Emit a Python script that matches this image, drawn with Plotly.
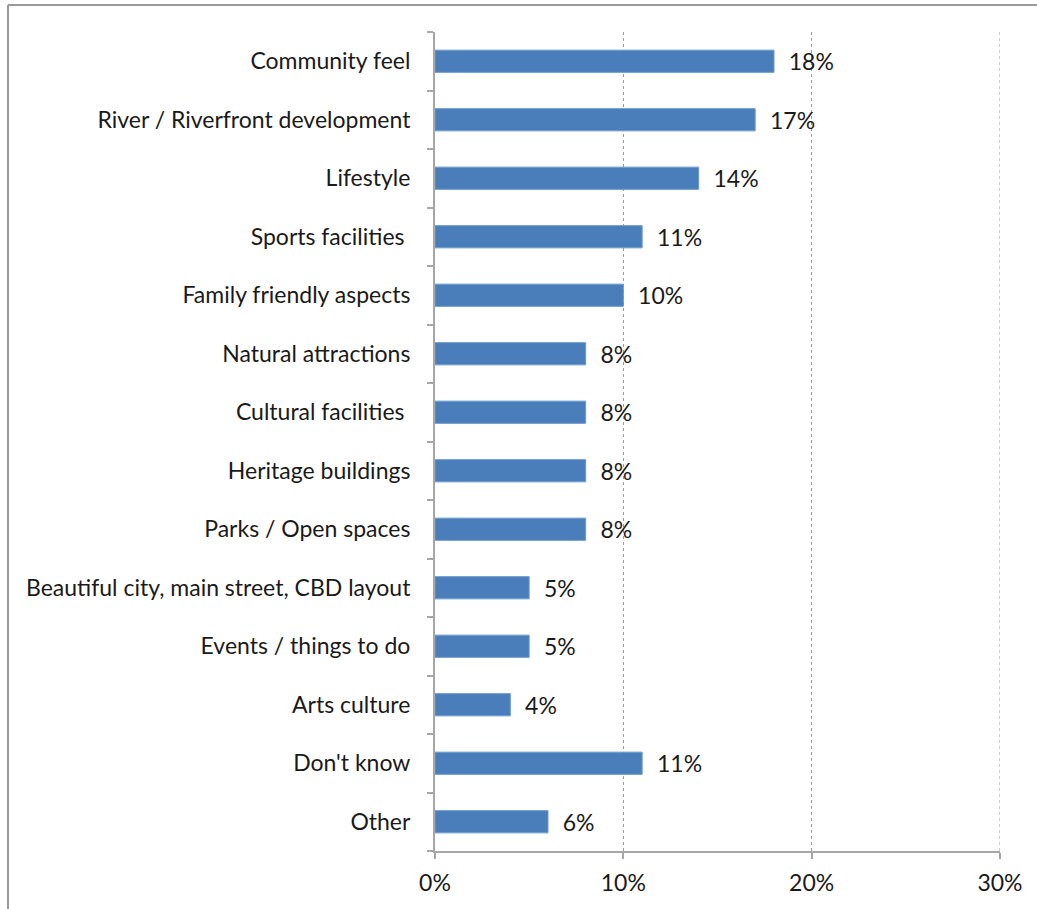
import plotly.graph_objects as go

# Reasons respondents gave (top to bottom) and share of mentions (%)
categories = [
    "Community feel",
    "River / Riverfront development",
    "Lifestyle",
    "Sports facilities\u00a0",
    "Family friendly aspects",
    "Natural attractions",
    "Cultural facilities\u00a0",
    "Heritage buildings",
    "Parks / Open spaces",
    "Beautiful city, main street, CBD layout",
    "Events / things to do",
    "Arts culture",
    "Don't know",
    "Other",
]
values = [18, 17, 14, 11, 10, 8, 8, 8, 8, 5, 5, 4, 11, 6]
x_ticks = [0, 10, 20, 30]
x_tick_labels = ["0%", "10%", "20%", "30%"]
x_max = 30

FONT = "Lato, 'Open Sans', sans-serif"
FONT_SIZE = 23
AXIS_GREY = "#a6a6a6"
GRID_GREY = "#9a9a9a"

fig = go.Figure(
    go.Bar(
        x=values,
        y=categories,
        orientation="h",
        width=0.38,
        marker=dict(color="#4A7EBB", line=dict(color="#6d9bd1", width=1)),
        text=[f"\u00a0\u00a0{v}%" for v in values],
        textposition="outside",
        constraintext="none",
        textfont=dict(family=FONT, size=FONT_SIZE, color="#1a1a1a"),
        cliponaxis=False,
    )
)

fig.update_layout(
    width=1037,
    height=909,
    margin=dict(l=435, r=37, t=32, b=58),
    paper_bgcolor="white",
    plot_bgcolor="white",
    showlegend=False,
    font=dict(family=FONT, size=FONT_SIZE, color="#1a1a1a"),
    xaxis=dict(
        range=[0, x_max],
        tickvals=x_ticks,
        ticktext=x_tick_labels,
        showgrid=True,
        gridcolor=GRID_GREY,
        griddash="dot",
        gridwidth=1,
        showline=True,
        linecolor=AXIS_GREY,
        linewidth=2,
        ticks="outside",
        ticklen=6,
        tickcolor=AXIS_GREY,
        tickwidth=2,
        ticklabelstandoff=4,
        zeroline=False,
        fixedrange=True,
    ),
    yaxis=dict(
        categoryorder="array",
        categoryarray=categories[::-1],
        autorange=False,
        range=[-0.5, len(categories) - 0.5],
        showline=True,
        linecolor=AXIS_GREY,
        linewidth=2,
        ticks="outside",
        tickson="boundaries",
        ticklen=6,
        tickcolor=AXIS_GREY,
        tickwidth=2,
        ticklabelstandoff=18,
        showgrid=False,
        zeroline=False,
        fixedrange=True,
    ),
    shapes=[
        # gridline at the right end of the value axis
        dict(type="line", xref="x", yref="paper",
             x0=x_max, x1=x_max, y0=0, y1=1,
             line=dict(color=GRID_GREY, width=1, dash="dot")),
        # outer frame: top and left edges of the chart box
        dict(type="line", xref="paper", yref="paper",
             x0=(8 - 435) / 565, x1=(1040 - 435) / 565,
             y0=(851 - 5) / 819, y1=(851 - 5) / 819,
             line=dict(color="#9a9a9a", width=2)),
        dict(type="line", xref="paper", yref="paper",
             x0=(8 - 435) / 565, x1=(8 - 435) / 565,
             y0=(851 - 5) / 819, y1=(851 - 912) / 819,
             line=dict(color="#9a9a9a", width=2)),
    ],
)

fig.write_html("out.html")
